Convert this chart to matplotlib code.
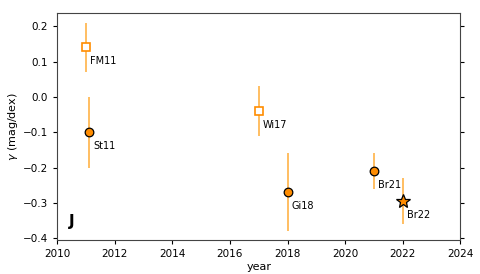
import matplotlib
matplotlib.use('Agg')
import matplotlib.pyplot as plt

# Data
labels = ['FM11', 'St11', 'Wi17', 'Gi18', 'Br21', 'Br22']
years = [2011.0, 2011.1, 2017.0, 2018.0, 2021.0, 2022.0]
gamma = [0.14, -0.10, -0.04, -0.27, -0.21, -0.295]
gamma_err = [0.07, 0.10, 0.07, 0.11, 0.052, 0.065]
markers = ['s', 'o', 's', 'o', 'o', '*']
open_marker = [True, False, True, False, False, False]

ERR_COLOR = '#ffb347'
FILL_COLOR = '#ff8c00'

fig = plt.figure(figsize=(4.8, 2.74), dpi=100)
ax = fig.add_axes([0.119, 0.124, 0.840, 0.828])

for x, y, e, m, op, lab in zip(years, gamma, gamma_err, markers, open_marker, labels):
    ax.errorbar(x, y, yerr=e, fmt='none', ecolor=ERR_COLOR, elinewidth=1.2, zorder=1)
    if op:
        ax.plot(x, y, marker=m, ms=6, mfc='white', mec=FILL_COLOR, mew=1.2,
                linestyle='none', zorder=2)
    else:
        size = 10 if m == '*' else 6.2
        ax.plot(x, y, marker=m, ms=size, mfc=FILL_COLOR, mec='black', mew=0.9,
                linestyle='none', zorder=2)
    ax.annotate(lab, (x, y), xytext=(3, -12), textcoords='offset points',
                fontsize=7, color='black')

ax.text(0.03, 0.06, 'J', transform=ax.transAxes, fontsize=11, fontweight='bold')

ax.set_xlim(2010, 2024)
ax.set_ylim(-0.405, 0.237)
ax.set_xticks(range(2010, 2025, 2))
ax.set_yticks([-0.4, -0.3, -0.2, -0.1, 0.0, 0.1, 0.2])
ax.tick_params(labelsize=7.5, right=True, length=3)
ax.set_xlabel('year', fontsize=8, labelpad=2)
ax.set_ylabel(r'$\gamma$ (mag/dex)', fontsize=8, labelpad=2)
for s in ax.spines.values():
    s.set_color('#444444')

fig.savefig('out.png', dpi=100)
